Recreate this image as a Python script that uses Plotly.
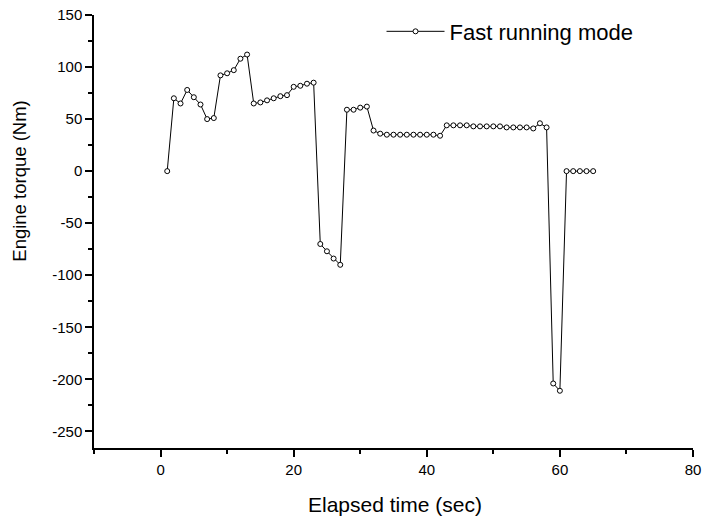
import plotly.graph_objects as go

time_sec = list(range(1, 66))
torque_nm = [
    0, 70, 65, 78, 71, 64, 50, 51, 92, 94,
    97, 108, 112, 65, 66, 68, 70, 72, 73, 81,
    82, 84, 85, -70, -77, -84, -90, 59, 59, 61,
    62, 39, 36, 35, 35, 35, 35, 35, 35, 35,
    35, 34, 44, 44, 44, 44, 43, 43, 43, 43,
    43, 42, 42, 42, 42, 41, 46, 42, -204, -211,
    0, 0, 0, 0, 0,
]
x_tick_values = [0, 20, 40, 60, 80]
y_tick_values = [-250, -200, -150, -100, -50, 0, 50, 100, 150]
series_name = "Fast running mode"
x_title = "Elapsed time (sec)"
y_title = "Engine torque (Nm)"

font_family = "Liberation Sans, Arial, sans-serif"

fig = go.Figure()
fig.add_trace(go.Scatter(
    x=time_sec, y=torque_nm, mode="lines+markers", name=series_name,
    line=dict(color="black", width=1),
    marker=dict(symbol="circle", size=5, color="white",
                line=dict(color="black", width=1)),
))

axis_common = dict(
    showline=True, linecolor="black", linewidth=1.5,
    showgrid=False, zeroline=False,
    ticks="outside", ticklen=7, tickwidth=1.5, tickcolor="black",
    tickfont=dict(family=font_family, size=15, color="black"),
    mirror=False, automargin=False,
)

fig.update_xaxes(
    **axis_common,
    range=[-10, 80], tickmode="array",
    tickvals=x_tick_values, ticktext=[str(v) for v in x_tick_values],
    minor=dict(ticks="outside", ticklen=4, tickwidth=1.5, tickcolor="black", dtick=10, tick0=0),
)
fig.update_yaxes(
    **axis_common,
    range=[-266, 150], tickmode="array",
    tickvals=y_tick_values, ticktext=[str(v) for v in y_tick_values],
    minor=dict(ticks="outside", ticklen=4, tickwidth=1.5, tickcolor="black", dtick=25, tick0=0),
)

fig.add_annotation(
    text=x_title, xref="paper", yref="paper", x=0.5025, y=0,
    xanchor="center", yanchor="middle", yshift=-56, showarrow=False,
    font=dict(family=font_family, size=21, color="black"),
)
fig.add_annotation(
    text=y_title, xref="paper", yref="paper", x=0, y=0.615,
    xanchor="center", yanchor="middle", xshift=-74, textangle=-90, showarrow=False,
    font=dict(family=font_family, size=18.5, color="black"),
)

fig.update_layout(
    width=705, height=521,
    margin=dict(l=94, r=12, t=14, b=73),
    paper_bgcolor="white", plot_bgcolor="white",
    showlegend=True,
    legend=dict(
        x=0.48, y=1.008, xanchor="left", yanchor="top",
        bgcolor="rgba(0,0,0,0)", itemwidth=58,
        font=dict(family=font_family, size=22, color="black"),
    ),
)

fig.write_html("out.html")
